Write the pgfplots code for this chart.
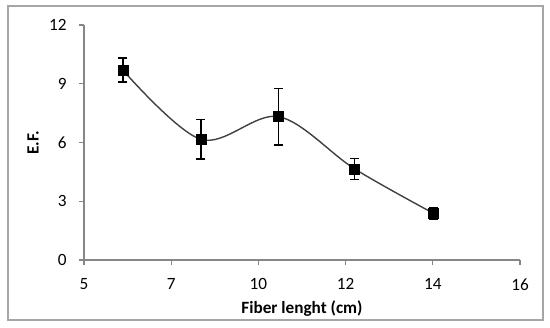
\documentclass[border=0pt]{standalone}
\usepackage{pgfplots}
\pgfplotsset{compat=1.18}
\usepackage{fontspec}
\setmainfont{Carlito}
\definecolor{axgray}{HTML}{868686}
\definecolor{framegray}{HTML}{A6A6A6}
\definecolor{curve}{HTML}{404040}
\begin{document}
\begin{tikzpicture}
\begin{axis}[
  at={(0,0)}, anchor=south west,
  scale only axis,
  width=436bp, height=235bp,
  xmin=5, xmax=16, ymin=0, ymax=12,
  axis lines=left,
  axis line style={draw=axgray, line width=1.2bp, -},
  xtick={5,7.2,9.4,11.6,13.8,16},
  xticklabels={5,7,10,12,14,16},
  ytick={0,3,6,9,12},
  tick align=outside,
  major tick length=5bp,
  tick style={draw=axgray, line width=1.2bp},
  /pgf/number format/assume math mode=true,
  ticklabel style={font=\fontsize{17.2bp}{19bp}\selectfont, text=black},
  xticklabel style={yshift=-10bp},
  yticklabel style={xshift=-9bp},
  xlabel={\textbf{Fiber lenght (cm)}},
  ylabel={\textbf{E.F.}},
  every axis x label/.style={at={(axis description cs:0.5,0)}, anchor=base, yshift=-53bp, font=\fontsize{17.2bp}{19bp}\selectfont},
  every axis y label/.style={at={(axis description cs:-0.117,0.5)}, rotate=90, anchor=center, font=\fontsize{17.2bp}{19bp}\selectfont},
  clip=false,
]
\addplot[curve, line width=1.4bp, smooth, tension=0.55,
  mark=square*, mark size=5bp, mark options={black, fill=black, line width=0.5bp},
  error bars/.cd, y dir=both, y explicit,
  error bar style={black, line width=1.4bp},
  error mark options={rotate=90, mark size=4.5bp, line width=1.4bp, black}]
  coordinates {
  (5.98,9.70) +- (0,0.62)
  (7.95,6.16) +- (0,1.00)
  (9.91,7.32) +- (0,1.45)
  (11.83,4.65) +- (0,0.53)
  (13.82,2.38) +- (0,0.30)
  };
\end{axis}
\draw[framegray, line width=1.2bp] (-76bp,-60bp) rectangle (459bp,254bp);
\pgfresetboundingbox
\path[use as bounding box] (-84bp,-68bp) rectangle (466bp,260bp);
\end{tikzpicture}
\end{document}
